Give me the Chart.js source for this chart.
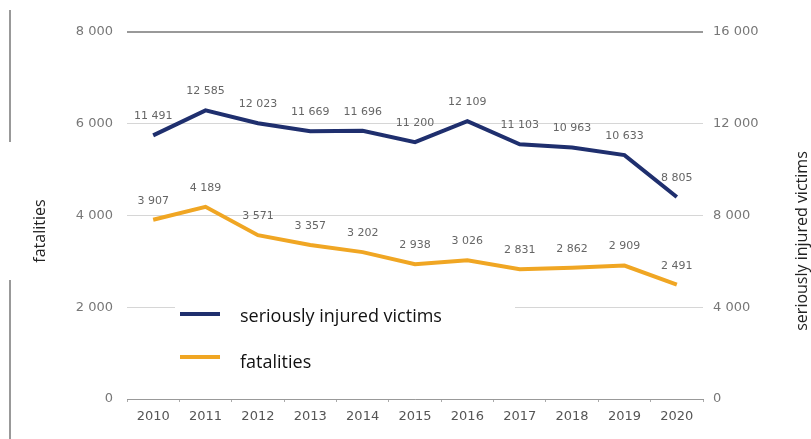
<!DOCTYPE html>
<html>
<head>
<meta charset="utf-8">
<script src="https://cdn.jsdelivr.net/npm/chart.js@4.4.0/dist/chart.umd.min.js"></script>
<style>
  html, body { margin: 0; padding: 0; background: #fff; }
  #wrap { position: relative; width: 811px; height: 439px; }
</style>
</head>
<body>
<div id="wrap"><canvas id="roadChart" width="811" height="439"></canvas></div>
<script>
const years = ["2010", "2011", "2012", "2013", "2014", "2015", "2016", "2017", "2018", "2019", "2020"];
const injured = [11491, 12585, 12023, 11669, 11696, 11200, 12109, 11103, 10963, 10633, 8805];
const fatalities = [3907, 4189, 3571, 3357, 3202, 2938, 3026, 2831, 2862, 2909, 2491];
const leftTicks = [0, 2000, 4000, 6000, 8000];
const rightTicks = [0, 4000, 8000, 12000, 16000];

const BLUE = "#1f2f6e";
const ORANGE = "#f0a623";

function fmt(v) {
  return String(v).replace(/\B(?=(\d{3})+(?!\d))/g, " ");
}

// value labels above each point
const valueLabels = {
  id: "valueLabels",
  afterDatasetsDraw(chart) {
    const ctx = chart.ctx;
    ctx.save();
    ctx.font = "11px 'DejaVu Sans'";
    ctx.fillStyle = "#666";
    ctx.textAlign = "center";
    ctx.textBaseline = "middle";
    chart.data.datasets.forEach((ds, i) => {
      const meta = chart.getDatasetMeta(i);
      meta.data.forEach((pt, j) => {
        ctx.fillText(fmt(ds.data[j]), pt.x, pt.y - 19);
      });
    });
    ctx.restore();
  }
};

// axis titles, legend box, scan edge lines
const extras = {
  id: "extras",
  afterDraw(chart) {
    const ctx = chart.ctx;
    const area = chart.chartArea;
    ctx.save();

    ctx.fillStyle = "#222";
    ctx.font = "16px 'Open Sans'";
    ctx.textAlign = "center";
    ctx.textBaseline = "middle";
    ctx.save();
    ctx.translate(40, 231);
    ctx.rotate(-Math.PI / 2);
    ctx.fillText("fatalities", 0, 0);
    ctx.restore();
    ctx.save();
    ctx.translate(802, 241);
    ctx.rotate(-Math.PI / 2);
    ctx.fillText("seriously injured victims", 0, 0);
    ctx.restore();

    // legend
    const lx = area.left + 50;
    ctx.fillStyle = "#fff";
    ctx.fillRect(lx - 2, 296, 340, 80);
    ctx.lineWidth = 4;
    ctx.strokeStyle = BLUE;
    ctx.beginPath(); ctx.moveTo(lx + 3, 314); ctx.lineTo(lx + 43, 314); ctx.stroke();
    ctx.strokeStyle = ORANGE;
    ctx.beginPath(); ctx.moveTo(lx + 3, 357); ctx.lineTo(lx + 43, 357); ctx.stroke();
    ctx.fillStyle = "#111";
    ctx.font = "18px 'Open Sans'";
    ctx.textAlign = "left";
    ctx.fillText("seriously injured victims", lx + 63, 317);
    ctx.fillText("fatalities", lx + 63, 363);

    // left edge lines
    ctx.strokeStyle = "#999";
    ctx.lineWidth = 2;
    ctx.beginPath(); ctx.moveTo(10, 10); ctx.lineTo(10, 142); ctx.stroke();
    ctx.beginPath(); ctx.moveTo(10, 280); ctx.lineTo(10, 439); ctx.stroke();
    ctx.restore();
  }
};

new Chart(document.getElementById("roadChart").getContext("2d"), {
  type: "line",
  data: {
    labels: years,
    datasets: [
      {
        label: "seriously injured victims",
        data: injured,
        yAxisID: "y2",
        borderColor: BLUE,
        borderWidth: 4,
        pointRadius: 0,
        tension: 0,
        fill: false
      },
      {
        label: "fatalities",
        data: fatalities,
        yAxisID: "y",
        borderColor: ORANGE,
        borderWidth: 4,
        pointRadius: 0,
        tension: 0,
        fill: false
      }
    ]
  },
  options: {
    responsive: false,
    animation: false,
    layout: { padding: { top: 32, left: 0, right: 0, bottom: 0 } },
    plugins: {
      legend: { display: false },
      tooltip: { enabled: false }
    },
    scales: {
      x: {
        offset: true,
        grid: {
          offset: true,
          drawOnChartArea: false,
          drawTicks: true,
          tickLength: 3,
          color: "#aaa"
        },
        border: { display: true, color: "#999", width: 1 },
        ticks: {
          color: "#555",
          font: { family: "DejaVu Sans", size: 13 },
          maxRotation: 0,
          padding: 7
        },
        afterFit(scale) { scale.height = 40; }
      },
      y: {
        position: "left",
        min: 0,
        max: 8000,
        afterBuildTicks(scale) { scale.ticks = leftTicks.map(v => ({ value: v })); },
        grid: {
          color: ctx => (ctx.tick && ctx.tick.value === 8000 ? "#999" : "#d6d6d6"),
          lineWidth: ctx => (ctx.tick && ctx.tick.value === 8000 ? 2 : 1),
          drawTicks: false
        },
        border: { display: false },
        ticks: {
          color: "#777",
          font: { family: "DejaVu Sans", size: 13 },
          padding: 14,
          callback: v => fmt(v)
        },
        afterFit(scale) { scale.width = 127; }
      },
      y2: {
        position: "right",
        min: 0,
        max: 16000,
        afterBuildTicks(scale) { scale.ticks = rightTicks.map(v => ({ value: v })); },
        grid: { drawOnChartArea: false, drawTicks: false },
        border: { display: false },
        ticks: {
          color: "#777",
          font: { family: "DejaVu Sans", size: 13 },
          padding: 10,
          callback: v => fmt(v)
        },
        afterFit(scale) { scale.width = 108; }
      }
    }
  },
  plugins: [valueLabels, extras]
});
</script>
</body>
</html>
